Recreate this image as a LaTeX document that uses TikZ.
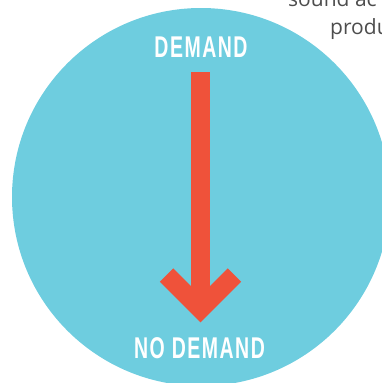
\documentclass[tikz,border=0pt]{standalone}
\usepackage{fontspec}
\newfontfamily\headfont{Liberation Sans}[FakeStretch=0.65,LetterSpace=5]
\newfontfamily\bodyfont{Open Sans}
\definecolor{circblue}{RGB}{110,205,223}
\definecolor{arrowred}{RGB}{239,82,58}
\definecolor{textgray}{RGB}{77,77,77}
\tikzset{
  label/.style={text=white,font=\headfont\bfseries\fontsize{30}{30}\selectfont,anchor=base,inner sep=0pt},
  side/.style={text=textgray,font=\bodyfont\fontsize{21}{21}\selectfont,anchor=base west,inner sep=0pt}
}
\begin{document}
\begin{tikzpicture}[x=1pt,y=-1pt]
\useasboundingbox (0,0) rectangle (382,383);
\clip (0,0) rectangle (382,383);

\fill[circblue] (201,197) circle[radius=189];

\node[side] (line1) at (288,6) {sound ac};
\node[side] (line2) at (330,34) {produ};

\node[label] (demand) at (201,57) {DEMAND};
\node[label] (nodemand) at (199.5,358) {NO DEMAND};

\coordinate (shafttop) at (200.5,72);
\coordinate (tip) at (200.5,309);
\draw[arrowred,line width=19pt] (shafttop) -- (tip);
\draw[arrowred,line width=19pt,miter limit=4] (166.5,275) -- (tip) -- (234.5,275);
\end{tikzpicture}
\end{document}
